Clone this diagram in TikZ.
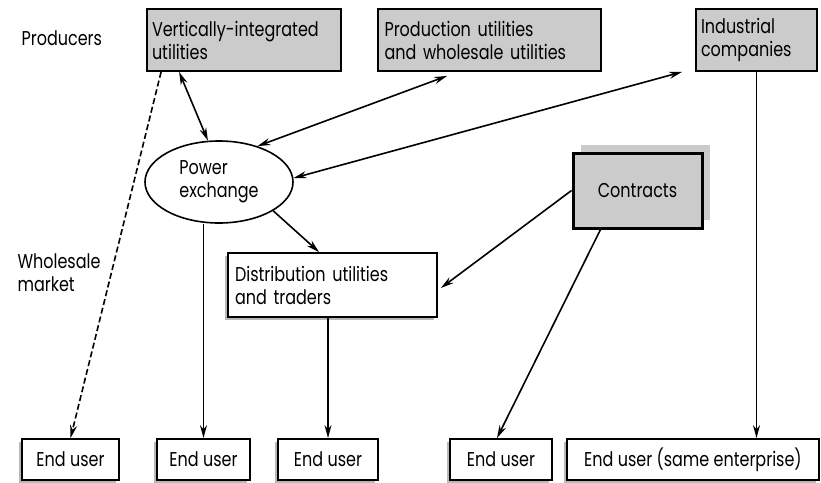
\documentclass[tikz,border=0pt]{standalone}
\usepackage{fontspec}
\setmainfont{Poppins}[FakeStretch=0.8]
\usetikzlibrary{arrows.meta,shapes.geometric,shadows}
\definecolor{boxgrey}{HTML}{CBCBCB}
\definecolor{shadegrey}{HTML}{9A9A9A}
\tikzset{
  txt/.style={font=\fontsize{20}{23}\selectfont},
  greybox/.style={draw, line width=1.8pt, fill=boxgrey, txt, align=left,
    inner sep=0pt, minimum height=62pt},
  whitebox/.style={draw, line width=1.8pt, fill=white, txt, align=left,
    inner sep=0pt, drop shadow={shadow xshift=-3pt, shadow yshift=-3pt, fill=shadegrey, opacity=0.7}},
  enduser/.style={whitebox, minimum height=41pt},
  conn/.style={line width=1.6pt},
  tip/.style={-{Stealth[length=13pt,width=7pt]}},
  tips/.style={{Stealth[length=13pt,width=7pt]}-{Stealth[length=13pt,width=7pt]}},
}
\begin{document}
\begin{tikzpicture}[x=1pt,y=-1pt]
\useasboundingbox (0,0) rectangle (821,482);

% producers row
\node[greybox, minimum width=194pt, text width=184pt] (vi) at (244,40) {Vertically-integrated\\utilities};
\node[greybox, minimum width=223pt, text width=210pt] (prod) at (489.5,40) {Production utilities\\and wholesale utilities};
\node[greybox, minimum width=121pt, text width=111pt] (ind) at (756.5,40) {Industrial\\companies};

% market level
\node[draw, ellipse, line width=1.6pt, minimum width=148pt, minimum height=82pt, txt, align=left, inner sep=0pt] (pe) at (219,182) {Power\\exchange};
\fill[boxgrey] (581,145) rectangle (710,220);
\node[draw, line width=3pt, fill=boxgrey, txt, minimum width=129pt, minimum height=75pt, inner sep=0pt] (con) at (637.5,190.5) {Contracts};
\node[whitebox, minimum width=209pt, minimum height=64pt, text width=195pt] (dist) at (332.5,285) {Distribution utilities\\and traders};

% end users
\node[enduser, minimum width=97pt] (e1) at (70.5,459.5) {End user};
\node[enduser, minimum width=93pt] (e2) at (203.5,459.5) {End user};
\node[enduser, minimum width=100pt] (e3) at (328,459.5) {End user};
\node[enduser, minimum width=102pt] (e4) at (501,459.5) {End user};
\node[enduser, minimum width=252pt] (e5) at (693,459.5) {End user (same enterprise)};

% side labels
\node[txt, anchor=west, align=left] (lprod) at (18,38) {Producers};
\node[txt, anchor=west, align=left] (lwhole) at (14,273) {Wholesale\\market};

% connectors
\draw[conn, tips] ([xshift=33pt]vi.south west) -- (pe.105);
\draw[conn, tips] ([xshift=70pt, yshift=-4pt]prod.south west) -- (pe.43);
\draw[conn, tips] ([xshift=-13pt]ind.south west) -- (pe.3);
\draw[conn, tip] (pe.-28) -- ([xshift=92pt]dist.north west);
\draw[conn, tip] (e2.north |- pe.south) -- (e2.north);
\draw[conn, tip] (e3.north |- dist.south) -- (e3.north);
\draw[conn, tip] (con.west) -- ([xshift=3pt, yshift=-3pt]dist.east);
\draw[conn, tip] ([xshift=29pt]con.south west) -- ([xshift=-4pt]e4.north);
\draw[conn, tip] (ind.south) -- (ind.south |- e5.north);
\draw[conn, tip, dash pattern=on 6pt off 3pt] ([xshift=15pt]vi.south west) -- (e1.north);
\end{tikzpicture}
\end{document}
